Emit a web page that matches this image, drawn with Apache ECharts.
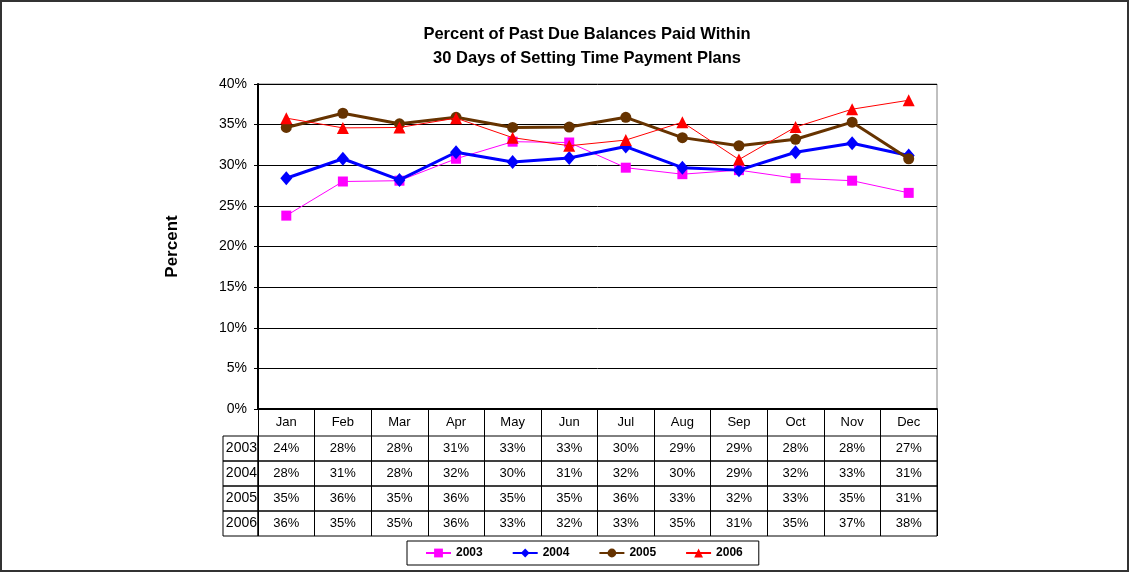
<!DOCTYPE html>
<html>
<head>
<meta charset="utf-8">
<script src="https://cdn.jsdelivr.net/npm/echarts@6/dist/echarts.min.js"></script>
<style>
html,body{margin:0;padding:0;background:#fff;}
#chart{width:1130px;height:573px;}
</style>
</head>
<body>
<div id="chart"></div>
<script>
const months = ['Jan','Feb','Mar','Apr','May','Jun','Jul','Aug','Sep','Oct','Nov','Dec'];
const years = ['2003','2004','2005','2006'];
const s2003 = [23.8, 28.0, 28.1, 30.8, 32.9, 32.8, 29.7, 28.9, 29.4, 28.4, 28.1, 26.6];
const s2004 = [28.4, 30.8, 28.2, 31.6, 30.4, 30.9, 32.3, 29.7, 29.4, 31.6, 32.7, 31.2];
const s2005 = [34.65, 36.4, 35.1, 35.9, 34.65, 34.7, 35.9, 33.4, 32.4, 33.2, 35.3, 30.8];
const s2006 = [35.8, 34.6, 34.65, 35.8, 33.4, 32.4, 33.1, 35.3, 30.7, 34.7, 36.9, 38.0];
const yTicks = [0, 5, 10, 15, 20, 25, 30, 35, 40];

const seriesData = [s2003, s2004, s2005, s2006];
const colors = ['#FF00FF', '#0000FF', '#663300', '#FF0000'];
const FONT = '"Liberation Sans", Arial, sans-serif';

const chart = echarts.init(document.getElementById('chart'), null, {renderer: 'canvas'});

const grids = [{left: 258, top: 84, width: 679, height: 325, show: true, borderColor: '#808080', borderWidth: 1, backgroundColor: 'transparent'}];
const xAxes = [{
  type: 'category', gridIndex: 0, data: months, boundaryGap: true,
  axisLine: {show: true, lineStyle: {color: '#000', width: 2}},
  axisTick: {show: true, length: 27, interval: 0, lineStyle: {color: '#000', width: 1}},
  axisLabel: {show: true, interval: 0, margin: 7, fontSize: 13, color: '#000', fontFamily: FONT},
  splitLine: {show: false}
}];
const yAxes = [{
  type: 'value', gridIndex: 0, min: yTicks[0], max: yTicks[yTicks.length - 1], interval: 5,
  name: 'Percent', nameLocation: 'middle', nameGap: 77, nameRotate: 90,
  nameTextStyle: {fontSize: 17, fontWeight: 'bold', color: '#000', fontFamily: FONT},
  axisLine: {show: true, lineStyle: {color: '#000', width: 2}},
  axisTick: {show: true, length: 4, lineStyle: {color: '#000'}},
  axisLabel: {formatter: v => v + '%', margin: 11, fontSize: 14, color: '#000', fontFamily: FONT},
  splitLine: {show: true, lineStyle: {color: '#000', width: 1}}
}];

const series = years.map((y, i) => ({
  name: y, type: 'line', xAxisIndex: 0, yAxisIndex: 0,
  data: seriesData[i],
  symbol: ['rect', 'diamond', 'circle', 'triangle'][i],
  symbolSize: [10, [12, 14], 11, 12][i],
  showAllSymbol: true,
  lineStyle: {color: colors[i], width: [1, 3, 3, 1][i]},
  itemStyle: {color: colors[i]},
  z: 3 + i
}));

years.forEach((y, i) => {
  grids.push({left: 258, top: 436 + 25 * i, width: 679, height: 25, show: true, borderColor: '#000', borderWidth: 1, backgroundColor: 'transparent'});
  xAxes.push({
    type: 'category', gridIndex: i + 1, data: months, boundaryGap: true,
    axisLine: {show: false}, axisTick: {show: false}, axisLabel: {show: false},
    splitLine: {show: true, interval: 0, lineStyle: {color: '#000', width: 1}}
  });
  yAxes.push({
    type: 'category', gridIndex: i + 1, data: [y],
    axisLine: {show: false}, axisTick: {show: false}, splitLine: {show: false},
    axisLabel: {
      margin: 0, fontSize: 14, color: '#000', fontFamily: FONT,
      width: 33, align: 'right', padding: [6, 1, 5, 1], lineHeight: 14,
      borderColor: '#000', borderWidth: 1
    }
  });
  const vals = seriesData[i];
  series.push({
    type: 'scatter', xAxisIndex: i + 1, yAxisIndex: i + 1, silent: true,
    symbolSize: 0.1, itemStyle: {color: '#fff', opacity: 1},
    data: vals.map((v, j) => [j, 0]),
    label: {show: true, position: 'inside', color: '#000', opacity: 1, textBorderWidth: 0,
      fontSize: 13, fontFamily: FONT,
      formatter: p => Math.round(vals[p.dataIndex]) + '%'}
  });
});

chart.setOption({
  animation: false,
  backgroundColor: '#fff',
  title: {
    text: 'Percent of Past Due Balances Paid Within\n30 Days of Setting Time Payment Plans',
    left: 582, top: 17, textAlign: 'center',
    textStyle: {fontSize: 16.5, fontWeight: 'bold', color: '#000', lineHeight: 24, fontFamily: FONT}
  },
  legend: {
    data: years, left: 407, top: 541, orient: 'horizontal',
    itemWidth: 25, itemHeight: 11, itemGap: 29,
    borderColor: '#000', borderWidth: 1, padding: [6, 16, 6, 18],
    textStyle: {fontSize: 12, fontWeight: 'bold', color: '#000', fontFamily: FONT}
  },
  grid: grids,
  xAxis: xAxes,
  yAxis: yAxes,
  series: series,
  graphic: [{
    type: 'rect', shape: {x: 1, y: 1, width: 1127, height: 570},
    style: {fill: 'none', stroke: '#333', lineWidth: 2}, silent: true, z: 100
  }]
});
</script>
</body>
</html>
